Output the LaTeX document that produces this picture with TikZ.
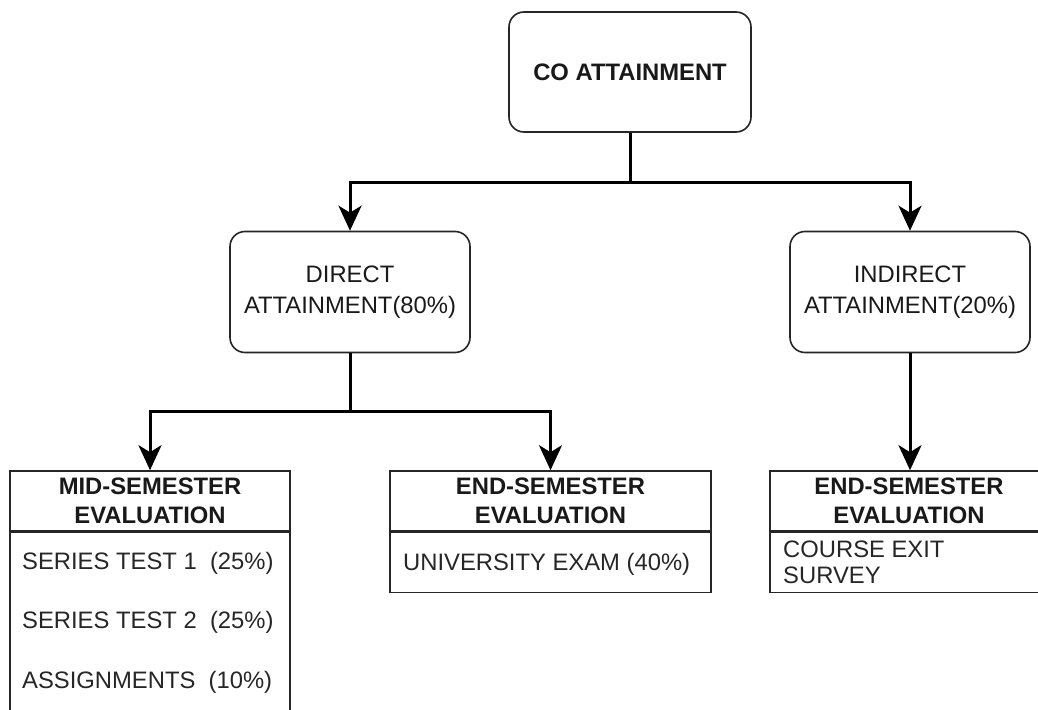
\documentclass[tikz,border=0pt]{standalone}
\usepackage{fontspec}
\setmainfont{Liberation Sans}
\usetikzlibrary{arrows.meta,calc}
\begin{document}
\begin{tikzpicture}[x=1pt,y=-1pt,
  rbox/.style={draw=black!85,line width=1.6pt,rounded corners=15pt,inner sep=0pt,align=center,text=black!90},
  hbox/.style={draw=black!85,line width=1.6pt,inner sep=0pt,align=center,text=black!90,font=\bfseries\fontsize{23.8}{29}\selectfont},
  bbox/.style={draw=black!85,line width=1.6pt,inner sep=0pt},
  itemtxt/.style={inner sep=0pt,anchor=base west,text=black!85,font=\fontsize{23.8}{26}\selectfont},
  conn/.style={line width=3pt,black,-{Stealth[length=25pt,width=23pt,inset=7pt]}},
  plain/.style={line width=3pt,black}]
\useasboundingbox (0,0) rectangle (1038,709);
\clip (0,0) rectangle (1038,709);
\fill[white] (0,0) rectangle (1038,709);

% top node
\node[rbox,minimum width=242pt,minimum height=120pt,font=\bfseries\fontsize{23.8}{29}\selectfont] (co) at (630,72) {CO ATTAINMENT};

% second level
\node[rbox,minimum width=240pt,minimum height=121pt,font=\fontsize{23.8}{31}\selectfont] (direct) at (350,292) {DIRECT\\ATTAINMENT(80\%)};
\node[rbox,minimum width=240pt,minimum height=121pt,font=\fontsize{23.8}{31}\selectfont] (indirect) at (910,292) {INDIRECT\\ATTAINMENT(20\%)};

% third level headers
\node[hbox,minimum width=280pt,minimum height=60pt] (midh) at (150,501) {MID-SEMESTER\\EVALUATION};
\node[hbox,minimum width=321pt,minimum height=60pt] (endh) at (550.5,501) {END-SEMESTER\\EVALUATION};
\node[hbox,minimum width=278pt,minimum height=60pt] (indh) at (909,501) {END-SEMESTER\\EVALUATION};

% bodies
\node[bbox,minimum width=280pt,minimum height=200pt,anchor=north] (midb) at (midh.south) {};
\node[bbox,minimum width=321pt,minimum height=60pt,anchor=north] (endb) at (endh.south) {};
\node[bbox,minimum width=278pt,minimum height=60pt,anchor=north] (indb) at (indh.south) {};

% items
\node[itemtxt] (st1) at (22,569) {SERIES TEST 1\ \ (25\%)};
\node[itemtxt] (st2) at (22,628) {SERIES TEST 2\ \ (25\%)};
\node[itemtxt] (asg) at (22,688) {ASSIGNMENTS\ \ (10\%)};
\node[itemtxt] (uni) at (403,570) {UNIVERSITY EXAM (40\%)};
\node[itemtxt] (ces1) at (783,557) {COURSE EXIT};
\node[itemtxt] (ces2) at (783,583) {SURVEY};

% connectors
\coordinate (j1) at ($(co.south)+(0,50)$);
\draw[plain] (co.south) -- (j1);
\draw[conn] (j1) -| (direct.north);
\draw[conn] (j1) -| (indirect.north);
\coordinate (j2) at ($(direct.south)+(0,58)$);
\draw[plain] (direct.south) -- (j2);
\draw[conn] (j2) -| (midh.north);
\draw[conn] (j2) -| (endh.north);
\draw[conn] (indirect.south) -- (indirect.south |- indh.north);
\end{tikzpicture}
\end{document}
